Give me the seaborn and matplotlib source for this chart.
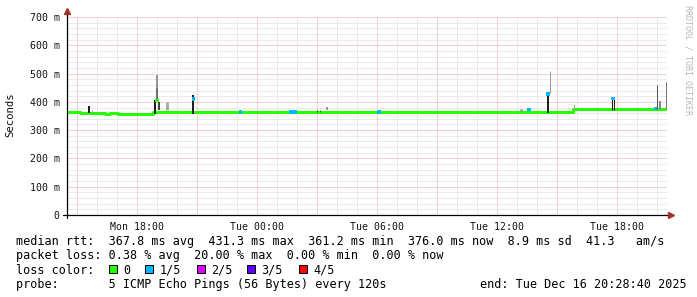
import numpy as np
import pandas as pd
import matplotlib
matplotlib.use("Agg")
import matplotlib.pyplot as plt
import seaborn as sns
from matplotlib.lines import Line2D
from matplotlib.patches import Rectangle
from matplotlib.ticker import MultipleLocator

# ---------------- data (time in hours since Mon 00:00, values in seconds) -------------
t_start = 14 + 28 / 60 + 40 / 3600   # Mon 14:28:40
t_end = 44 + 28 / 60 + 40 / 3600     # Tue 20:28:40

x_tick_hours = [18, 24, 30, 36, 42]
x_tick_labels = ["Mon 18:00", "Tue 00:00", "Tue 06:00", "Tue 12:00", "Tue 18:00"]
y_tick_values = [0.0, 0.1, 0.2, 0.3, 0.4, 0.5, 0.6, 0.7]
y_tick_labels = ["0", "100 m", "200 m", "300 m", "400 m", "500 m", "600 m", "700 m"]

# median rtt (step series)
median_t = [14.478, 15.13, 16.38, 16.63, 17.03, 18.80, 22.10, 22.25, 33.40, 33.50,
            39.78, 41.90, 42.20, 42.90, 43.20, 43.60, 43.80, 44.478]
median_v = [0.364, 0.361, 0.357, 0.361, 0.357, 0.364, 0.363, 0.364, 0.363, 0.364,
            0.375, 0.373, 0.375, 0.373, 0.375, 0.373, 0.375, 0.375]

# smoke (spread of individual pings)
smoke_t = [15.553, 15.728, 18.878, 18.953, 18.953, 19.053, 19.453, 20.778,
           26.978, 27.128, 27.478, 37.178, 37.578, 38.528, 38.603, 39.803,
           41.703, 41.803, 43.953, 44.128, 44.428]
smoke_lo = [0.360, 0.364, 0.357, 0.400, 0.450, 0.370, 0.370, 0.357,
            0.364, 0.364, 0.370, 0.367, 0.367, 0.362, 0.430, 0.370,
            0.370, 0.370, 0.376, 0.376, 0.376]
smoke_hi = [0.385, 0.372, 0.405, 0.450, 0.495, 0.400, 0.400, 0.424,
            0.372, 0.372, 0.383, 0.375, 0.374, 0.432, 0.509, 0.389,
            0.418, 0.415, 0.460, 0.403, 0.471]
smoke_shade = ["#1e1e1e", "#999999", "#1e1e1e", "#444444", "#777777", "#444444", "#aaaaaa", "#1e1e1e",
               "#333333", "#555555", "#999999", "#999999", "#777777", "#1e1e1e", "#999999", "#999999",
               "#111111", "#222222", "#555555", "#888888", "#777777"]
smoke_width_px = [2, 1, 2, 1.5, 1.5, 2, 3, 2,
                  1, 1, 2, 3, 2, 2, 1, 1,
                  1, 1, 1, 2, 1]

# loss-coloured median samples
loss_t = [18.978, 20.803, 23.163, 25.678, 25.878, 30.078, 37.578, 38.528, 41.778, 43.903]
loss_v = [0.406, 0.410, 0.364, 0.364, 0.364, 0.364, 0.372, 0.428, 0.412, 0.376]
loss_lvl = ["0", "1/5", "1/5", "1/5", "1/5", "1/5", "1/5", "1/5", "1/5", "1/5"]

loss_names = ["0", "1/5", "2/5", "3/5", "4/5"]
loss_colors = ["#26ff00", "#00b8ff", "#dd00ff", "#5a00ff", "#ff0000"]

legend_line1 = "median rtt:  367.8 ms avg  431.3 ms max  361.2 ms min  376.0 ms now  8.9 ms sd  41.3   am/s"
legend_line2 = "packet loss: 0.38 % avg  20.00 % max  0.00 % min  0.00 % now"
legend_line3 = "loss color:"
legend_line4 = "probe:       5 ICMP Echo Pings (56 Bytes) every 120s"
end_text = "end: Tue Dec 16 20:28:40 2025"

# ---------------- drawing -------------
sns.set_style("white")
plt.rcParams["font.family"] = ["DejaVu Sans Mono", "DejaVu Sans"]

W, H = 697, 297
fig = plt.figure(figsize=(W / 100, H / 100), dpi=100)
fig.patch.set_facecolor("white")
ax = fig.add_axes([67 / W, 82 / H, 600 / W, 198 / H])
ax.set_facecolor("white")

def fx(px):
    return px / W

def fy(py):
    return 1 - py / H

ax.set_xlim(t_start, t_end)
ax.set_ylim(0, 0.7)

# grid
ax.xaxis.set_major_locator(MultipleLocator(3))
ax.xaxis.set_minor_locator(MultipleLocator(1))
ax.yaxis.set_major_locator(MultipleLocator(0.1))
ax.yaxis.set_minor_locator(MultipleLocator(0.02))
ax.grid(which="minor", color="#d9d9d9", linewidth=0.72, linestyle=(0, (1, 1)), zorder=0)
ax.grid(which="major", color="#eba5a5", linewidth=0.72, linestyle=(0, (1, 1)), zorder=0.5)
ax.set_axisbelow(True)

for s in ax.spines.values():
    s.set_visible(False)

# median line
df_med = pd.DataFrame({"t": median_t, "v": median_v})
sns.lineplot(data=df_med, x="t", y="v", ax=ax, color=loss_colors[0], linewidth=2.2,
             drawstyle="steps-post", estimator=None, sort=False, legend=False,
             solid_capstyle="butt", zorder=3)

# smoke
for t, lo, hi, c, w in zip(smoke_t, smoke_lo, smoke_hi, smoke_shade, smoke_width_px):
    ax.vlines(t, lo, hi, colors=c, linewidth=w * 0.72, zorder=4)

# loss-coloured samples
df_loss = pd.DataFrame({"t": loss_t, "v": loss_v, "loss": loss_lvl})
sns.scatterplot(data=df_loss, x="t", y="v", hue="loss", ax=ax,
                palette=dict(zip(loss_names, loss_colors)), marker="s", s=5.5,
                linewidth=0, legend=False, zorder=5)

ax.set_xlabel("")
ax.set_ylabel("")

# ticks
ax.set_yticks(y_tick_values)
ax.set_yticklabels(y_tick_labels)
major_x = list(np.arange(15, 45, 3))
ax.set_xticks(major_x)
ax.set_xticklabels([x_tick_labels[x_tick_hours.index(h)] if h in x_tick_hours else "" for h in major_x])
ax.tick_params(axis="both", which="major", direction="out", length=2, width=0.72,
               color="#333333", labelsize=7.1, labelcolor="#111111")
ax.tick_params(axis="both", which="minor", direction="out", length=1.5, width=0.72, color="#555555")
ax.tick_params(axis="x", which="major", pad=3)
ax.tick_params(axis="y", which="major", pad=3.2)

# axes lines with arrows
tr = ax.transAxes
ax.add_line(Line2D([-4 / 600, 603 / 600], [0, 0], transform=tr, color="black", lw=0.9, clip_on=False, zorder=6))
ax.add_line(Line2D([0, 0], [-3 / 198, 1 + 4 / 198], transform=tr, color="black", lw=0.9, clip_on=False, zorder=6))
ax.plot([1 + 4 / 600], [0], marker=">", markersize=4, color="#a0302a", transform=tr, clip_on=False, zorder=7)
ax.plot([0], [1 + 6 / 198], marker="^", markersize=4, color="#a0302a", transform=tr, clip_on=False, zorder=7)

# y label and watermark
fig.text(fx(10), fy(115), "Seconds", rotation=90, ha="center", va="center", fontsize=7.7, color="#111111")
fig.text(fx(688), fy(60), "RRDTOOL / TOBI OETIKER", rotation=270, ha="center", va="center",
         fontsize=6, color="#b8b8b8")

# legend texts
fs = 8.5
fig.text(fx(16.5), fy(245), legend_line1, ha="left", va="baseline", fontsize=fs, color="black")
fig.text(fx(16.5), fy(259.5), legend_line2, ha="left", va="baseline", fontsize=fs, color="black")
fig.text(fx(16.5), fy(273.5), legend_line3, ha="left", va="baseline", fontsize=fs, color="black")
fig.text(fx(16.5), fy(288), legend_line4, ha="left", va="baseline", fontsize=fs, color="black")
fig.text(fx(480), fy(288), end_text, ha="left", va="baseline", fontsize=fs, color="black")

box_x = [108.6, 145.0, 197.0, 247.0, 298.5]
lab_x = [123.0, 159.5, 211.0, 261.0, 313.0]
for bx, lx, name, col in zip(box_x, lab_x, loss_names, loss_colors):
    fig.patches.append(Rectangle((fx(bx), fy(273)), 8 / W, 8 / H, transform=fig.transFigure,
                                 facecolor=col, edgecolor="black", linewidth=0.72))
    fig.text(fx(lx), fy(273.5), name, ha="left", va="baseline", fontsize=fs, color="black")

fig.savefig("out.png", dpi=100, facecolor="white")
